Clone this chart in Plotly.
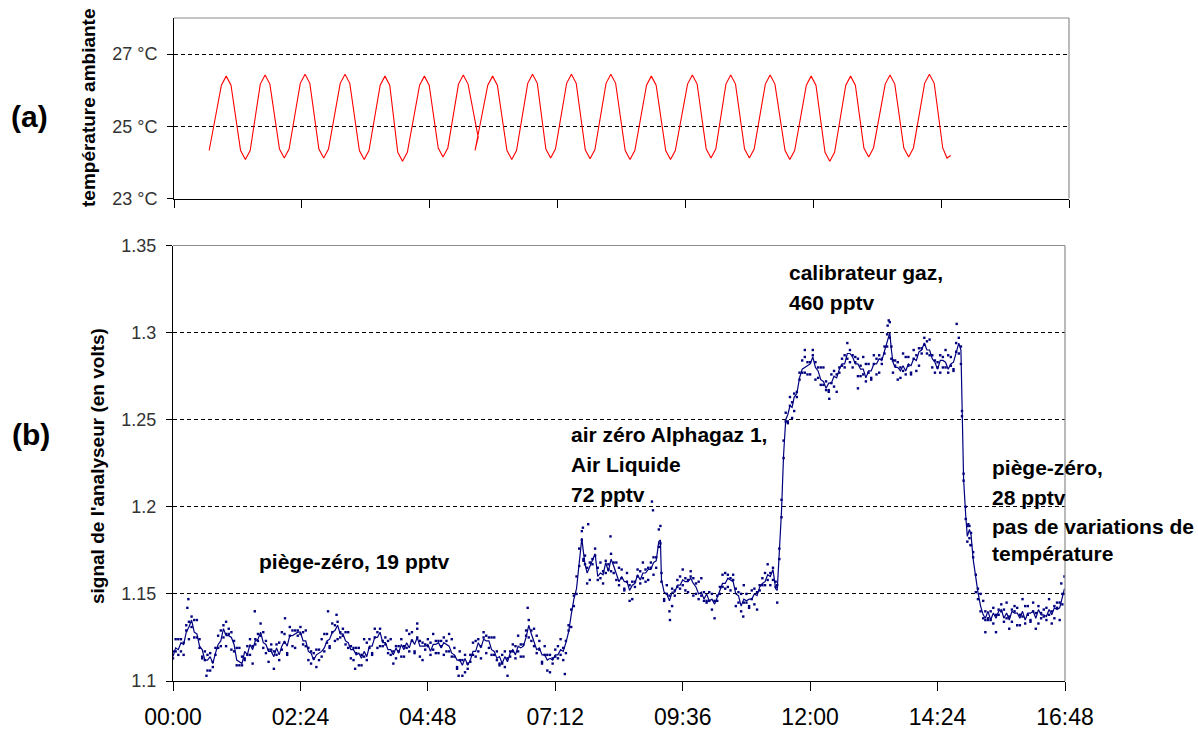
import plotly.graph_objects as go

# ---------------- DATA ----------------
# time axis in hours (0 .. 16.8 h  == 00:00 .. 16:48)
x_tickvals = [0, 2.4, 4.8, 7.2, 9.6, 12.0, 14.4, 16.8]
x_ticktext = ["00:00", "02:24", "04:48", "07:12", "09:36", "12:00", "14:24", "16:48"]

temp_ticks = [23, 25, 27]
temp_ticktext = ["23 °C", "25 °C", "27 °C"]
sig_ticks = [1.1, 1.15, 1.2, 1.25, 1.3, 1.35]
sig_ticktext = ["1.1", "1.15", "1.2", "1.25", "1.3", "1.35"]

# (a) ambient temperature (°C)
temp_t = [0.66, 0.89, 0.98, 1.07, 1.25, 1.34, 1.43, 1.62, 1.71, 1.80, 1.98, 2.07, 2.16, 2.37, 2.46, 2.55,
          2.72, 2.81, 2.90, 3.12, 3.21, 3.30, 3.48, 3.57, 3.66, 3.87, 3.96, 4.05, 4.20, 4.29, 4.38, 4.61,
          4.70, 4.79, 4.96, 5.05, 5.14, 5.34, 5.43, 5.52, 5.71, 5.65, 5.89, 5.98, 6.07, 6.25, 6.34, 6.43,
          6.64, 6.73, 6.82, 6.98, 7.07, 7.16, 7.37, 7.46, 7.55, 7.72, 7.81, 7.90, 8.11, 8.20, 8.29, 8.47,
          8.56, 8.65, 8.87, 8.96, 9.05, 9.23, 9.32, 9.41, 9.64, 9.73, 9.82, 9.99, 10.08, 10.17, 10.36, 10.45,
          10.54, 10.71, 10.80, 10.89, 11.10, 11.19, 11.28, 11.47, 11.56, 11.65, 11.87, 11.96, 12.05, 12.22, 12.31, 12.40,
          12.61, 12.70, 12.79, 12.95, 13.04, 13.13, 13.35, 13.44, 13.53, 13.70, 13.79, 13.88, 14.09, 14.18, 14.27, 14.43,
          14.51, 14.58]
temp_v = [24.33, 26.14, 26.39, 26.14, 24.33, 24.08, 24.33, 26.17, 26.42, 26.17, 24.37, 24.12, 24.37, 26.19, 26.44, 26.19,
          24.37, 24.12, 24.37, 26.19, 26.44, 26.19, 24.33, 24.08, 24.33, 26.14, 26.39, 26.14, 24.28, 24.03, 24.28, 26.14,
          26.39, 26.14, 24.40, 24.15, 24.40, 26.17, 26.42, 26.17, 24.70, 24.33, 26.14, 26.39, 26.14, 24.33, 24.08, 24.33,
          26.19, 26.44, 26.19, 24.37, 24.12, 24.37, 26.19, 26.44, 26.19, 24.35, 24.10, 24.35, 26.19, 26.44, 26.19, 24.33,
          24.08, 24.33, 26.14, 26.39, 26.14, 24.33, 24.08, 24.33, 26.17, 26.42, 26.17, 24.37, 24.12, 24.37, 26.17, 26.42,
          26.17, 24.37, 24.12, 24.37, 26.17, 26.42, 26.17, 24.33, 24.08, 24.33, 26.14, 26.39, 26.14, 24.28, 24.03, 24.28,
          26.14, 26.39, 26.14, 24.40, 24.15, 24.40, 26.17, 26.42, 26.17, 24.40, 24.15, 24.40, 26.19, 26.44, 26.19, 24.40,
          24.12, 24.19]

# (b) analyser signal (volts): time of each reading
line_t = [0.00, 0.05, 0.10, 0.15, 0.20, 0.25, 0.30, 0.35, 0.40, 0.45, 0.50, 0.55, 0.60, 0.65, 0.70, 0.75,
          0.80, 0.85, 0.90, 0.95, 1.00, 1.05, 1.10, 1.15, 1.20, 1.25, 1.30, 1.35, 1.40, 1.45, 1.50, 1.55,
          1.60, 1.65, 1.70, 1.75, 1.80, 1.85, 1.90, 1.95, 2.00, 2.05, 2.10, 2.15, 2.20, 2.25, 2.30, 2.35,
          2.40, 2.45, 2.50, 2.55, 2.60, 2.65, 2.70, 2.75, 2.80, 2.85, 2.90, 2.95, 3.00, 3.05, 3.10, 3.15,
          3.20, 3.25, 3.30, 3.35, 3.40, 3.45, 3.50, 3.55, 3.60, 3.65, 3.70, 3.75, 3.80, 3.85, 3.90, 3.95,
          4.00, 4.05, 4.10, 4.15, 4.20, 4.25, 4.30, 4.35, 4.40, 4.45, 4.50, 4.55, 4.60, 4.65, 4.70, 4.75,
          4.80, 4.85, 4.90, 4.95, 5.00, 5.05, 5.10, 5.15, 5.20, 5.25, 5.30, 5.35, 5.40, 5.45, 5.50, 5.55,
          5.60, 5.65, 5.70, 5.75, 5.80, 5.85, 5.90, 5.95, 6.00, 6.05, 6.10, 6.15, 6.20, 6.25, 6.30, 6.35,
          6.40, 6.45, 6.50, 6.55, 6.60, 6.65, 6.70, 6.75, 6.80, 6.85, 6.90, 6.95, 7.00, 7.05, 7.10, 7.15,
          7.20, 7.25, 7.30, 7.35, 7.40, 7.45, 7.50, 7.55, 7.60, 7.65, 7.70, 7.73, 7.76, 7.80, 7.85, 7.90,
          7.95, 8.00, 8.05, 8.10, 8.15, 8.20, 8.25, 8.30, 8.35, 8.40, 8.45, 8.50, 8.55, 8.60, 8.65, 8.70,
          8.75, 8.80, 8.85, 8.90, 8.95, 9.00, 9.05, 9.10, 9.15, 9.18, 9.20, 9.25, 9.30, 9.35, 9.40, 9.45,
          9.50, 9.55, 9.60, 9.65, 9.70, 9.75, 9.80, 9.85, 9.90, 9.95, 10.00, 10.05, 10.10, 10.15, 10.20, 10.25,
          10.30, 10.35, 10.40, 10.45, 10.50, 10.55, 10.60, 10.65, 10.70, 10.75, 10.80, 10.85, 10.90, 10.95, 11.00, 11.05,
          11.10, 11.15, 11.20, 11.25, 11.30, 11.35, 11.38, 11.42, 11.46, 11.50, 11.54, 11.58, 11.62, 11.66, 11.70, 11.75,
          11.80, 11.85, 11.90, 11.95, 12.00, 12.05, 12.10, 12.15, 12.20, 12.25, 12.30, 12.35, 12.40, 12.45, 12.50, 12.55,
          12.60, 12.65, 12.70, 12.75, 12.80, 12.85, 12.90, 12.95, 13.00, 13.05, 13.10, 13.15, 13.20, 13.25, 13.30, 13.35,
          13.40, 13.45, 13.50, 13.53, 13.56, 13.60, 13.65, 13.70, 13.75, 13.80, 13.85, 13.90, 13.95, 14.00, 14.05, 14.10,
          14.15, 14.20, 14.25, 14.30, 14.35, 14.40, 14.45, 14.50, 14.55, 14.60, 14.65, 14.70, 14.75, 14.80, 14.84, 14.86,
          14.89, 14.93, 14.96, 15.00, 15.03, 15.07, 15.12, 15.16, 15.21, 15.26, 15.30, 15.35, 15.40, 15.45, 15.50, 15.55,
          15.60, 15.65, 15.70, 15.75, 15.80, 15.85, 15.90, 15.95, 16.00, 16.05, 16.10, 16.15, 16.20, 16.25, 16.30, 16.35,
          16.40, 16.45, 16.50, 16.55, 16.60, 16.65, 16.70, 16.75, 16.79]
# trace line
line_v = [1.114, 1.119, 1.118, 1.122, 1.121, 1.128, 1.131, 1.135, 1.128, 1.127, 1.120, 1.118, 1.112, 1.112, 1.114, 1.110,
          1.116, 1.121, 1.123, 1.130, 1.126, 1.126, 1.125, 1.121, 1.112, 1.111, 1.110, 1.117, 1.115, 1.121, 1.118, 1.123,
          1.124, 1.128, 1.122, 1.121, 1.117, 1.117, 1.114, 1.119, 1.115, 1.120, 1.123, 1.120, 1.126, 1.126, 1.127, 1.128,
          1.128, 1.123, 1.123, 1.117, 1.116, 1.112, 1.115, 1.116, 1.117, 1.119, 1.123, 1.124, 1.128, 1.129, 1.132, 1.127,
          1.127, 1.123, 1.122, 1.118, 1.118, 1.115, 1.116, 1.113, 1.117, 1.114, 1.120, 1.120, 1.125, 1.125, 1.128, 1.122,
          1.122, 1.118, 1.118, 1.115, 1.119, 1.116, 1.121, 1.118, 1.122, 1.119, 1.124, 1.121, 1.125, 1.120, 1.120, 1.120,
          1.121, 1.117, 1.121, 1.121, 1.122, 1.119, 1.122, 1.121, 1.120, 1.116, 1.115, 1.112, 1.112, 1.109, 1.113, 1.109,
          1.112, 1.117, 1.117, 1.122, 1.119, 1.124, 1.123, 1.123, 1.118, 1.117, 1.113, 1.114, 1.110, 1.114, 1.111, 1.116,
          1.118, 1.115, 1.120, 1.119, 1.120, 1.125, 1.132, 1.127, 1.123, 1.118, 1.119, 1.115, 1.115, 1.112, 1.113, 1.112,
          1.115, 1.115, 1.118, 1.117, 1.122, 1.128, 1.138, 1.147, 1.153, 1.168, 1.182, 1.174, 1.167, 1.162, 1.166, 1.169,
          1.173, 1.160, 1.162, 1.161, 1.168, 1.163, 1.170, 1.166, 1.161, 1.157, 1.160, 1.157, 1.157, 1.152, 1.155, 1.156,
          1.161, 1.158, 1.162, 1.162, 1.164, 1.164, 1.168, 1.169, 1.180, 1.181, 1.158, 1.151, 1.150, 1.146, 1.151, 1.151,
          1.155, 1.155, 1.158, 1.157, 1.157, 1.159, 1.156, 1.154, 1.150, 1.151, 1.147, 1.150, 1.146, 1.147, 1.144, 1.148,
          1.151, 1.156, 1.156, 1.159, 1.158, 1.157, 1.150, 1.149, 1.143, 1.147, 1.146, 1.147, 1.147, 1.150, 1.149, 1.154,
          1.156, 1.157, 1.161, 1.160, 1.164, 1.153, 1.152, 1.174, 1.197, 1.230, 1.250, 1.253, 1.258, 1.257, 1.263, 1.265,
          1.274, 1.279, 1.280, 1.281, 1.282, 1.286, 1.280, 1.278, 1.273, 1.272, 1.268, 1.271, 1.271, 1.275, 1.274, 1.279,
          1.282, 1.282, 1.288, 1.288, 1.286, 1.282, 1.282, 1.279, 1.279, 1.274, 1.278, 1.278, 1.282, 1.282, 1.285, 1.284,
          1.289, 1.294, 1.300, 1.290, 1.283, 1.280, 1.280, 1.278, 1.281, 1.278, 1.282, 1.281, 1.285, 1.284, 1.289, 1.290,
          1.294, 1.290, 1.290, 1.285, 1.283, 1.279, 1.284, 1.284, 1.283, 1.279, 1.282, 1.283, 1.289, 1.294, 1.290, 1.254,
          1.216, 1.195, 1.183, 1.187, 1.184, 1.170, 1.158, 1.151, 1.143, 1.138, 1.136, 1.140, 1.135, 1.139, 1.136, 1.140,
          1.141, 1.136, 1.139, 1.135, 1.140, 1.139, 1.139, 1.136, 1.140, 1.135, 1.139, 1.139, 1.140, 1.136, 1.141, 1.138,
          1.138, 1.137, 1.141, 1.138, 1.142, 1.141, 1.142, 1.148, 1.153]
# individual readings, first set (same times as line_t)
dots_a_v = [1.117, 1.117, 1.124, 1.117, 1.122, 1.132, 1.124, 1.137, 1.125, 1.135, 1.119, 1.114, 1.117, 1.106, 1.116, 1.108,
            1.119, 1.119, 1.129, 1.125, 1.127, 1.130, 1.118, 1.123, 1.109, 1.119, 1.109, 1.113, 1.120, 1.115, 1.120, 1.121,
            1.127, 1.126, 1.128, 1.116, 1.118, 1.121, 1.107, 1.121, 1.112, 1.128, 1.122, 1.116, 1.131, 1.120, 1.129, 1.126,
            1.131, 1.121, 1.129, 1.112, 1.117, 1.116, 1.108, 1.118, 1.114, 1.127, 1.122, 1.120, 1.133, 1.123, 1.134, 1.125,
            1.130, 1.121, 1.128, 1.113, 1.119, 1.119, 1.109, 1.115, 1.114, 1.122, 1.119, 1.116, 1.130, 1.119, 1.130, 1.120,
            1.125, 1.116, 1.124, 1.110, 1.120, 1.120, 1.114, 1.120, 1.119, 1.127, 1.123, 1.117, 1.130, 1.114, 1.122, 1.118,
            1.124, 1.115, 1.127, 1.116, 1.123, 1.123, 1.115, 1.123, 1.117, 1.124, 1.114, 1.108, 1.117, 1.103, 1.115, 1.107,
            1.115, 1.115, 1.123, 1.117, 1.120, 1.128, 1.116, 1.125, 1.115, 1.125, 1.112, 1.110, 1.115, 1.108, 1.113, 1.114,
            1.121, 1.113, 1.126, 1.114, 1.121, 1.129, 1.125, 1.129, 1.120, 1.126, 1.118, 1.111, 1.120, 1.106, 1.115, 1.110,
            1.118, 1.113, 1.124, 1.112, 1.123, 1.132, 1.131, 1.149, 1.150, 1.176, 1.181, 1.170, 1.172, 1.156, 1.168, 1.167,
            1.176, 1.158, 1.168, 1.156, 1.169, 1.167, 1.163, 1.168, 1.158, 1.165, 1.159, 1.153, 1.162, 1.146, 1.157, 1.154,
            1.164, 1.156, 1.168, 1.157, 1.165, 1.168, 1.161, 1.171, 1.177, 1.189, 1.157, 1.147, 1.155, 1.140, 1.153, 1.149,
            1.158, 1.153, 1.164, 1.152, 1.158, 1.163, 1.149, 1.156, 1.147, 1.159, 1.146, 1.146, 1.151, 1.141, 1.146, 1.146,
            1.154, 1.154, 1.162, 1.154, 1.159, 1.161, 1.143, 1.151, 1.140, 1.155, 1.145, 1.143, 1.152, 1.144, 1.151, 1.152,
            1.159, 1.155, 1.167, 1.155, 1.165, 1.157, 1.145, 1.176, 1.194, 1.238, 1.249, 1.249, 1.263, 1.251, 1.265, 1.263,
            1.277, 1.277, 1.286, 1.276, 1.283, 1.290, 1.273, 1.280, 1.270, 1.280, 1.267, 1.267, 1.276, 1.269, 1.276, 1.277,
            1.285, 1.280, 1.294, 1.283, 1.287, 1.286, 1.275, 1.281, 1.276, 1.282, 1.277, 1.274, 1.287, 1.276, 1.287, 1.282,
            1.292, 1.292, 1.306, 1.285, 1.284, 1.284, 1.273, 1.280, 1.278, 1.286, 1.281, 1.277, 1.290, 1.278, 1.291, 1.288,
            1.297, 1.288, 1.296, 1.280, 1.284, 1.283, 1.277, 1.286, 1.280, 1.287, 1.281, 1.279, 1.294, 1.288, 1.292, 1.252,
            1.219, 1.193, 1.189, 1.182, 1.185, 1.174, 1.151, 1.153, 1.140, 1.146, 1.135, 1.136, 1.140, 1.133, 1.138, 1.138,
            1.144, 1.134, 1.145, 1.130, 1.141, 1.143, 1.132, 1.138, 1.137, 1.143, 1.138, 1.135, 1.145, 1.130, 1.143, 1.136,
            1.141, 1.135, 1.147, 1.133, 1.143, 1.145, 1.135, 1.150, 1.150]
# individual readings, second set (same times as line_t)
dots_b_v = [1.113, 1.124, 1.115, 1.124, 1.115, 1.129, 1.134, 1.131, 1.135, 1.125, 1.124, 1.113, 1.112, 1.115, 1.106, 1.111,
            1.115, 1.126, 1.120, 1.132, 1.120, 1.127, 1.128, 1.117, 1.119, 1.109, 1.114, 1.112, 1.115, 1.124, 1.110, 1.124,
            1.123, 1.133, 1.119, 1.123, 1.111, 1.118, 1.117, 1.115, 1.122, 1.118, 1.127, 1.115, 1.126, 1.129, 1.119, 1.129,
            1.127, 1.128, 1.120, 1.119, 1.110, 1.113, 1.118, 1.112, 1.124, 1.117, 1.127, 1.119, 1.128, 1.132, 1.124, 1.128,
            1.126, 1.128, 1.119, 1.120, 1.112, 1.116, 1.119, 1.109, 1.124, 1.112, 1.124, 1.115, 1.125, 1.128, 1.120, 1.123,
            1.121, 1.123, 1.115, 1.117, 1.113, 1.117, 1.124, 1.114, 1.129, 1.117, 1.128, 1.116, 1.125, 1.123, 1.112, 1.121,
            1.120, 1.122, 1.118, 1.123, 1.116, 1.120, 1.125, 1.117, 1.127, 1.114, 1.119, 1.107, 1.112, 1.112, 1.105, 1.110,
            1.111, 1.122, 1.114, 1.124, 1.113, 1.125, 1.126, 1.119, 1.125, 1.115, 1.117, 1.109, 1.110, 1.117, 1.103, 1.117,
            1.117, 1.120, 1.117, 1.121, 1.114, 1.126, 1.135, 1.123, 1.130, 1.116, 1.123, 1.110, 1.115, 1.115, 1.105, 1.113,
            1.114, 1.120, 1.115, 1.119, 1.116, 1.129, 1.141, 1.143, 1.160, 1.166, 1.186, 1.169, 1.167, 1.165, 1.158, 1.170,
            1.172, 1.165, 1.159, 1.163, 1.162, 1.164, 1.173, 1.162, 1.168, 1.155, 1.164, 1.152, 1.157, 1.155, 1.147, 1.157,
            1.160, 1.163, 1.159, 1.164, 1.158, 1.165, 1.171, 1.165, 1.187, 1.179, 1.162, 1.146, 1.150, 1.149, 1.143, 1.152,
            1.154, 1.160, 1.155, 1.159, 1.151, 1.160, 1.159, 1.150, 1.157, 1.149, 1.151, 1.145, 1.146, 1.150, 1.136, 1.149,
            1.150, 1.161, 1.153, 1.161, 1.152, 1.158, 1.153, 1.145, 1.150, 1.145, 1.150, 1.142, 1.147, 1.153, 1.141, 1.155,
            1.155, 1.162, 1.158, 1.162, 1.158, 1.154, 1.155, 1.170, 1.204, 1.228, 1.254, 1.248, 1.258, 1.260, 1.255, 1.266,
            1.273, 1.284, 1.277, 1.283, 1.276, 1.287, 1.283, 1.274, 1.280, 1.270, 1.272, 1.266, 1.271, 1.278, 1.266, 1.280,
            1.281, 1.287, 1.285, 1.290, 1.280, 1.283, 1.285, 1.275, 1.286, 1.272, 1.282, 1.273, 1.282, 1.285, 1.277, 1.285,
            1.288, 1.299, 1.297, 1.292, 1.277, 1.281, 1.283, 1.274, 1.288, 1.276, 1.286, 1.276, 1.285, 1.287, 1.281, 1.291,
            1.293, 1.295, 1.287, 1.287, 1.277, 1.280, 1.287, 1.280, 1.290, 1.277, 1.286, 1.278, 1.289, 1.297, 1.282, 1.255,
            1.215, 1.200, 1.180, 1.189, 1.178, 1.171, 1.161, 1.147, 1.150, 1.136, 1.140, 1.135, 1.135, 1.142, 1.128, 1.141,
            1.140, 1.141, 1.136, 1.137, 1.134, 1.140, 1.142, 1.132, 1.147, 1.133, 1.143, 1.134, 1.140, 1.139, 1.133, 1.139,
            1.137, 1.142, 1.138, 1.140, 1.136, 1.142, 1.145, 1.144, 1.160]
# isolated outlying readings
out_t = [0.27, 0.29, 0.63, 1.00, 1.54, 2.11, 2.92, 3.08, 3.43, 4.60, 5.38, 6.68, 7.38, 7.72, 7.82, 8.24,
         9.02, 9.04, 9.36, 10.74, 11.90, 12.36, 12.90, 13.46, 13.48, 14.76, 14.98, 15.02, 15.30, 16.73]
out_v = [1.142, 1.147, 1.103, 1.134, 1.140, 1.136, 1.140, 1.138, 1.107, 1.133, 1.103, 1.142, 1.104, 1.188, 1.190, 1.183,
         1.203, 1.198, 1.135, 1.137, 1.290, 1.262, 1.268, 1.304, 1.307, 1.305, 1.190, 1.178, 1.128, 1.156]

# annotations: (text, left x px, centre y px)
notes = [
    ("piège-zéro, 19 pptv", 257, 561),
    ("air zéro Alphagaz 1,", 569, 435),
    ("Air Liquide", 569, 464),
    ("72 pptv", 569, 494),
    ("calibrateur gaz,", 787, 272),
    ("460 pptv", 787, 302),
    ("piège-zéro,", 990, 468),
    ("28 pptv", 990, 497),
    ("pas de variations de", 990, 526),
    ("température", 990, 553),
]

# ---------------- FIGURE ----------------
W, H = 1198, 733
FONT = "Liberation Sans, Arial, sans-serif"
NAVY = "#00007F"


def fx(px):
    return px / W


def fy(py):
    return 1 - py / H


fig = go.Figure()
fig.add_trace(go.Scatter(x=temp_t, y=temp_v, mode="lines",
                         line=dict(color="#FF0000", width=1.1),
                         xaxis="x", yaxis="y", showlegend=False))
dot_marker = dict(color=NAVY, size=2.4, symbol="square", line=dict(width=0))
for yv, xv in ((dots_a_v, line_t), (dots_b_v, line_t), (out_v, out_t)):
    fig.add_trace(go.Scatter(x=xv, y=yv, mode="markers", marker=dot_marker,
                             xaxis="x2", yaxis="y2", showlegend=False))
fig.add_trace(go.Scatter(x=line_t, y=line_v, mode="lines",
                         line=dict(color=NAVY, width=1.2),
                         xaxis="x2", yaxis="y2", showlegend=False))

common_axis = dict(showline=True, linecolor="black", linewidth=1, ticks="outside",
                   tickcolor="black", tickwidth=1, zeroline=False, automargin=False,
                   fixedrange=True)
grid = dict(showgrid=True, gridcolor="black", gridwidth=1, griddash="4px,3px")

fig.update_layout(
    width=W, height=H,
    margin=dict(l=0, r=0, t=0, b=0),
    paper_bgcolor="white", plot_bgcolor="white",
    font=dict(family=FONT, color="black"),
    xaxis=dict(domain=[fx(174), fx(1069)], range=[0, 16.8], tickvals=x_tickvals,
               showticklabels=False, ticklen=8, anchor="y", showgrid=False, **common_axis),
    yaxis=dict(domain=[fy(198.5), fy(18)], range=[23, 28], tickvals=temp_ticks,
               ticktext=temp_ticktext, ticklen=6, anchor="x", ticklabelstandoff=6,
               tickfont=dict(size=18, color="#333333"), **grid, **common_axis),
    xaxis2=dict(domain=[fx(173), fx(1065)], range=[0, 16.8], tickvals=x_tickvals,
                ticktext=x_ticktext, ticklen=9, anchor="y2", showgrid=False,
                ticklabelstandoff=6, tickfont=dict(size=23, color="black"), **common_axis),
    yaxis2=dict(domain=[fy(681), fy(245.5)], range=[1.1, 1.35], tickvals=sig_ticks,
                ticktext=sig_ticktext, ticklen=6, anchor="x2", ticklabelstandoff=6,
                tickfont=dict(size=18, color="#333333"), **grid, **common_axis),
)

# grey frame (top & right edges)
for xr, yr in (("x domain", "y domain"), ("x2 domain", "y2 domain")):
    fig.add_shape(type="line", xref=xr, yref=yr, x0=0, x1=1, y0=1, y1=1,
                  line=dict(color="#8C8C8C", width=1.2))
    fig.add_shape(type="line", xref=xr, yref=yr, x0=1, x1=1, y0=0, y1=1,
                  line=dict(color="#8C8C8C", width=1.2))

# axis titles and panel letters
fig.add_annotation(text="<b>température ambiante</b>", x=fx(89), y=fy(108), xref="paper", yref="paper",
                   textangle=-90, showarrow=False, font=dict(size=19, family=FONT),
                   xanchor="center", yanchor="middle")
fig.add_annotation(text="<b>signal de l'analyseur (en volts)</b>", x=fx(97), y=fy(466), xref="paper",
                   yref="paper", textangle=-90, showarrow=False, font=dict(size=19, family=FONT),
                   xanchor="center", yanchor="middle")
fig.add_annotation(text="<b>(a)</b>", x=fx(29), y=fy(116), xref="paper", yref="paper", showarrow=False,
                   font=dict(size=30, family=FONT), xanchor="center", yanchor="middle")
fig.add_annotation(text="<b>(b)</b>", x=fx(31), y=fy(435), xref="paper", yref="paper", showarrow=False,
                   font=dict(size=30, family=FONT), xanchor="center", yanchor="middle")

for txt, px, py in notes:
    fig.add_annotation(text="<b>" + txt + "</b>", x=fx(px), y=fy(py), xref="paper", yref="paper",
                       showarrow=False, font=dict(size=21, family=FONT, color="black"),
                       xanchor="left", yanchor="middle")

fig.write_html("out.html", config={"displayModeBar": False},
               post_script="document.body.style.margin='0px';")
